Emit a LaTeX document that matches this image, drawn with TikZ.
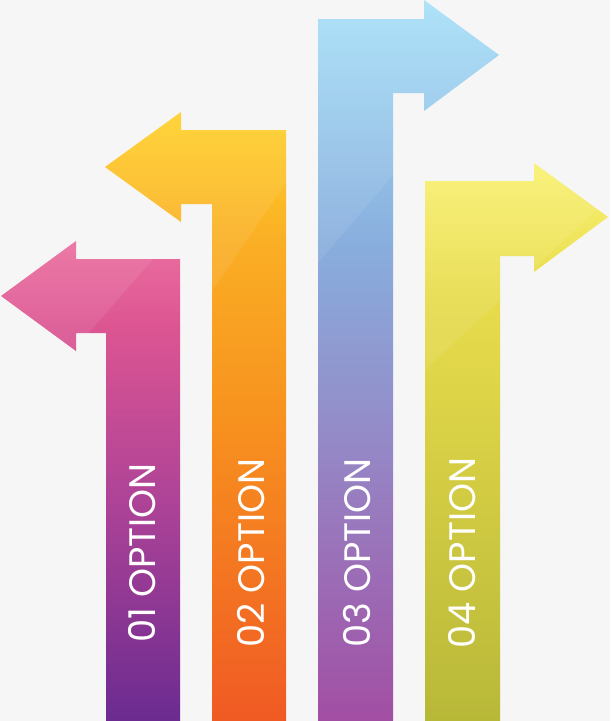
\documentclass[tikz,border=0pt]{standalone}
\usepackage{fontspec}
\setmainfont{Poppins}
\usepackage{xcolor}
\usepackage{tikz}

\definecolor{bggray}{HTML}{F6F6F6}
\definecolor{oneA}{HTML}{EB6F9F}
\definecolor{oneB}{HTML}{DC5592}
\definecolor{oneC}{HTML}{AE4397}
\definecolor{oneD}{HTML}{6B2B90}
\definecolor{twoA}{HTML}{FFD12B}
\definecolor{twoB}{HTML}{FAAE24}
\definecolor{twoC}{HTML}{F7901F}
\definecolor{twoD}{HTML}{F05A24}
\definecolor{threeA}{HTML}{A8E1F9}
\definecolor{threeB}{HTML}{88AEDD}
\definecolor{threeC}{HTML}{9588C6}
\definecolor{threeD}{HTML}{A24EA3}
\definecolor{fourA}{HTML}{F9F172}
\definecolor{fourB}{HTML}{E8DC4C}
\definecolor{fourD}{HTML}{B8B838}

\pgfdeclareverticalshading{arrowone}{100bp}{color(0bp)=(oneD); color(25bp)=(oneD);
  color(48bp)=(oneC); color(66bp)=(oneB); color(75bp)=(oneA); color(100bp)=(oneA)}
\pgfdeclareverticalshading{arrowtwo}{100bp}{color(0bp)=(twoD); color(25bp)=(twoD);
  color(49bp)=(twoC); color(64bp)=(twoB); color(75bp)=(twoA); color(100bp)=(twoA)}
\pgfdeclareverticalshading{arrowthree}{100bp}{color(0bp)=(threeD); color(25bp)=(threeD);
  color(44bp)=(threeC); color(58bp)=(threeB); color(75bp)=(threeA); color(100bp)=(threeA)}
\pgfdeclareverticalshading{arrowfour}{100bp}{color(0bp)=(fourD); color(25bp)=(fourD);
  color(63bp)=(fourB); color(75bp)=(fourA); color(100bp)=(fourA)}

\tikzset{
  optlabel/.style={text=white, inner sep=0pt, rotate=90,
                   font=\fontsize{21}{21}\selectfont},
  gloss/.style={fill=white, fill opacity=0.08}
}

\begin{document}
\begin{tikzpicture}[x=0.02cm,y=-0.02cm]

\fill[bggray] (0,0) rectangle (610,721);

% first arrow, turns left
\shade[shading=arrowone, path picture={
    \fill[gloss] (240,159) -- (19,413) -- (-100,413) -- (-100,159) -- cycle;}]
  (106,721) -- (106,333) -- (76,333) -- (76,351) -- (1,296) -- (76,241)
  -- (76,259) -- (180,259) -- (180,721) -- cycle;

% second arrow, turns left
\shade[shading=arrowtwo, path picture={
    \fill[gloss] (378,49) -- (148,384) -- (0,384) -- (0,49) -- cycle;}]
  (212,721) -- (212,204) -- (181,204) -- (181,222) -- (105,167) -- (181,112)
  -- (181,130) -- (286,130) -- (286,721) -- cycle;

% third arrow, turns right
\shade[shading=arrowthree, path picture={
    \fill[gloss] (618,-89) -- (243,351) -- (200,351) -- (200,-89) -- cycle;}]
  (318,721) -- (318,19) -- (424,19) -- (424,0) -- (499,55) -- (424,111)
  -- (424,93) -- (393,93) -- (393,721) -- cycle;

% fourth arrow, turns right
\shade[shading=arrowfour, path picture={
    \fill[gloss] (650,160) -- (350,440) -- (300,440) -- (300,160) -- cycle;}]
  (425,721) -- (425,181) -- (534,181) -- (534,163) -- (608,217) -- (534,272)
  -- (534,256) -- (500,256) -- (500,721) -- cycle;

\node[optlabel] (opt1) at (142,553) {01 OPTION};
\node[optlabel] (opt2) at (251,553) {02 OPTION};
\node[optlabel] (opt3) at (357,553) {03 OPTION};
\node[optlabel] (opt4) at (462,553) {04 OPTION};

\end{tikzpicture}
\end{document}
